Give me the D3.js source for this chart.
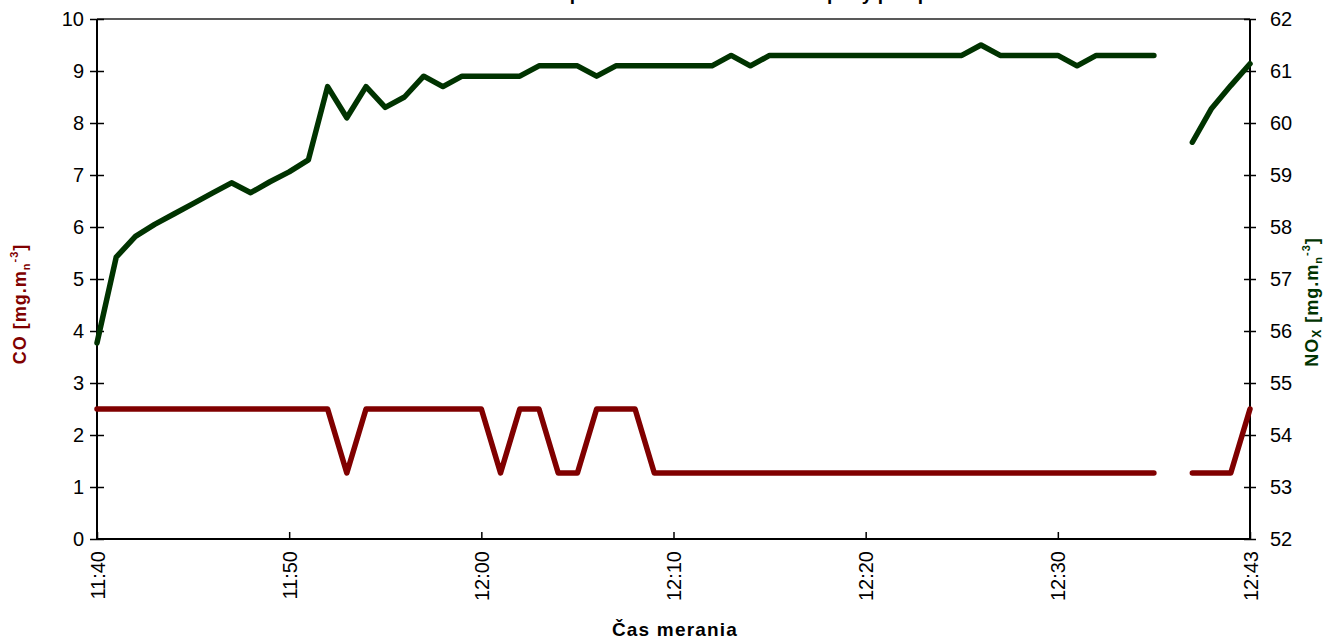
<!DOCTYPE html>
<html><head><meta charset="utf-8">
<script src="https://cdn.jsdelivr.net/npm/d3@7"></script>
<style>
body{margin:0;background:#fff;}
svg{display:block;font-family:"Liberation Sans",Arial,sans-serif;}
</style></head><body>
<svg id="c" width="1325" height="639"></svg>
<script>
// ---- data ----
const times = [];
for (let m = 40; m <= 96; m++) { const h = 11 + Math.floor(m / 60); const mm = m % 60; times.push(h + ":" + String(mm).padStart(2, "0")); }
times.push("12:40", "12:41", "12:42", "12:43");
const coValues = [
  2.5,2.5,2.5,2.5,2.5,2.5,2.5,2.5,2.5,2.5,
  2.5,2.5,2.5,1.27,2.5,2.5,2.5,2.5,2.5,2.5,
  2.5,1.27,2.5,2.5,1.27,1.27,2.5,2.5,2.5,1.27,
  1.27,1.27,1.27,1.27,1.27,1.27,1.27,1.27,1.27,1.27,
  1.27,1.27,1.27,1.27,1.27,1.27,1.27,1.27,1.27,1.27,
  1.27,1.27,1.27,1.27,1.27,1.27,null,1.27,1.27,1.27,
  2.5];
const noxValues = [
  55.77,57.42,57.82,58.05,58.25,58.45,58.65,58.85,58.66,58.87,
  59.06,59.29,60.7,60.1,60.7,60.3,60.5,60.9,60.7,60.9,
  60.9,60.9,60.9,61.1,61.1,61.1,60.9,61.1,61.1,61.1,
  61.1,61.1,61.1,61.3,61.1,61.3,61.3,61.3,61.3,61.3,
  61.3,61.3,61.3,61.3,61.3,61.3,61.5,61.3,61.3,61.3,
  61.3,61.1,61.3,61.3,61.3,61.3,null,59.63,60.28,60.72,
  61.14];
const xTickIdx = [0,10,20,30,40,50,60];
const leftTicks = [0,1,2,3,4,5,6,7,8,9,10];
const rightTicks = [52,53,54,55,56,57,58,59,60,61,62];
const titleText = "Koncentrácia CO a NOx počas merania - vlhkosť a teploty pri spaľovaní";

// ---- layout ----
const L = 97, R = 1250, T = 19, B = 539;
const svg = d3.select("#c");
const x = d3.scalePoint().domain(times).range([L, R]);
const yL = d3.scaleLinear().domain([0, 10]).range([B, T]);
const yR = d3.scaleLinear().domain([52, 62]).range([B, T]);
const red = "#800000", green = "#003300";

// title (cut off at top, as in the reference)
svg.append("text").attr("x", (L + R) / 2).attr("y", 0).attr("text-anchor", "middle")
  .attr("font-size", 19).attr("font-weight", "bold").text(titleText);

// top border
svg.append("line").attr("x1", L).attr("x2", R).attr("y1", T).attr("y2", T)
  .attr("stroke", "#222").attr("stroke-width", 1.5);

// left axis
const gl = svg.append("g").attr("transform", `translate(${L},0)`)
  .call(d3.axisLeft(yL).tickValues(leftTicks).tickSize(7).tickPadding(6));
gl.selectAll(".tick line").attr("x1", -7).attr("x2", 7).attr("stroke-width", 1.5);
gl.select(".domain").attr("stroke-width", 2).attr("d", `M0,${T}V${B}`);
gl.selectAll(".tick text").attr("font-size", 20).attr("fill", "#000").attr("font-family", "Liberation Sans, Arial, sans-serif");

// right axis
const gr = svg.append("g").attr("transform", `translate(${R},0)`)
  .call(d3.axisRight(yR).tickValues(rightTicks).tickSize(7).tickPadding(13));
gr.selectAll(".tick line").attr("x1", -6).attr("x2", 6).attr("stroke-width", 1.5);
gr.select(".domain").attr("stroke-width", 2).attr("d", `M0,${T}V${B}`);
gr.selectAll(".tick text").attr("font-size", 20).attr("fill", "#000").attr("font-family", "Liberation Sans, Arial, sans-serif");

// x axis
const gx = svg.append("g").attr("transform", `translate(0,${B})`)
  .call(d3.axisBottom(x).tickValues(xTickIdx.map(i => times[i])).tickSize(0));
gx.selectAll(".tick line").attr("y1", -7).attr("y2", 1).attr("stroke", "#000").attr("stroke-width", 1.5);
gx.select(".domain").attr("stroke-width", 2).attr("d", `M${L},0H${R}`);
gx.selectAll(".tick text").attr("font-size", 20).attr("fill", "#000")
  .attr("font-family", "Liberation Sans, Arial, sans-serif")
  .attr("transform", "rotate(-90)").attr("text-anchor", "end")
  .attr("x", -12).attr("y", 0).attr("dy", "0.35em");

// lines
const lineCO = d3.line().defined(d => d != null).x((d, i) => x(times[i])).y(d => yL(d));
const lineNOx = d3.line().defined(d => d != null).x((d, i) => x(times[i])).y(d => yR(d));
svg.append("path").datum(coValues).attr("d", lineCO).attr("fill", "none")
  .attr("stroke", red).attr("stroke-width", 5.5).attr("stroke-linejoin", "round").attr("stroke-linecap", "round");
svg.append("path").datum(noxValues).attr("d", lineNOx).attr("fill", "none")
  .attr("stroke", green).attr("stroke-width", 5.5).attr("stroke-linejoin", "round").attr("stroke-linecap", "round");

// axis titles
const t1 = svg.append("text").attr("transform", `translate(26,304) rotate(-90)`)
  .attr("text-anchor", "middle").attr("font-size", 18).attr("font-weight", "bold")
  .attr("fill", red).attr("letter-spacing", 1);
t1.append("tspan").text("CO [mg.m");
t1.append("tspan").attr("font-size", 11).attr("dy", 4).text("n");
t1.append("tspan").attr("font-size", 11).attr("dy", -12).text("-3");
t1.append("tspan").attr("dy", 8).text("]");

const t2 = svg.append("text").attr("transform", `translate(1318,302) rotate(-90)`)
  .attr("text-anchor", "middle").attr("font-size", 18).attr("font-weight", "bold")
  .attr("fill", green).attr("letter-spacing", 1);
t2.append("tspan").text("NO");
t2.append("tspan").attr("font-size", 12).attr("dy", 3).text("X");
t2.append("tspan").attr("dy", -3).text(" [mg.m");
t2.append("tspan").attr("font-size", 11).attr("dy", 4).text("n");
t2.append("tspan").attr("font-size", 11).attr("dy", -12).text("-3");
t2.append("tspan").attr("dy", 8).text("]");

svg.append("text").attr("x", 675).attr("y", 636).attr("text-anchor", "middle")
  .attr("font-size", 19).attr("font-weight", "bold").attr("letter-spacing", 1.2).text("Čas merania");
</script>
</body></html>
